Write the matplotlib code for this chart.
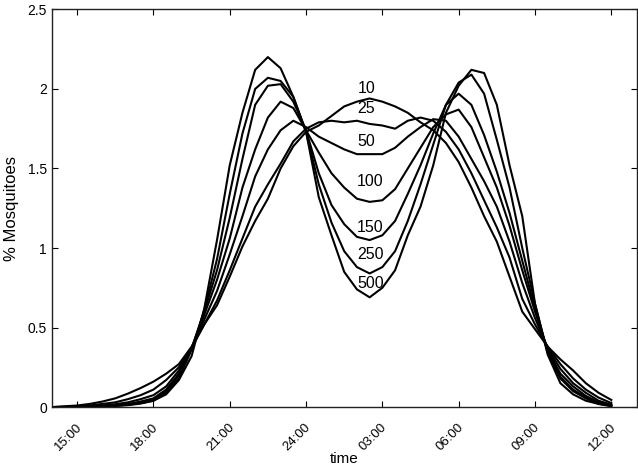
import numpy as np
import matplotlib
matplotlib.use('Agg')
from matplotlib import pyplot as plt
from matplotlib.transforms import ScaledTranslation

plt.rcParams['font.family'] = ['Liberation Sans', 'DejaVu Sans']

# Time of day in hours, 14:00 one day to 12:00 the next (24 = midnight)
hours = np.arange(14.0, 36.01, 0.5)

# % of mosquitoes active, one series per population size
m10 = [0.00, 0.005, 0.01, 0.02, 0.035, 0.055, 0.085, 0.12, 0.16, 0.21,
       0.27, 0.38, 0.52, 0.64, 0.82, 1.01, 1.17, 1.31, 1.50, 1.64,
       1.73, 1.77, 1.83, 1.89, 1.92, 1.94, 1.92, 1.89, 1.85, 1.79,
       1.74, 1.66, 1.54, 1.38, 1.20, 1.04, 0.82, 0.60, 0.49, 0.38,
       0.30, 0.23, 0.15, 0.09, 0.045]
m25 = [0.00, 0.002, 0.005, 0.01, 0.02, 0.03, 0.05, 0.075, 0.11, 0.17,
       0.25, 0.37, 0.52, 0.67, 0.86, 1.06, 1.26, 1.40, 1.53, 1.67,
       1.75, 1.79, 1.80, 1.79, 1.80, 1.78, 1.77, 1.75, 1.80, 1.82,
       1.80, 1.73, 1.62, 1.47, 1.30, 1.13, 0.94, 0.68, 0.52, 0.38,
       0.27, 0.18, 0.11, 0.06, 0.025]
m50 = [0.00, 0.00, 0.003, 0.006, 0.01, 0.018, 0.03, 0.05, 0.075, 0.13,
       0.23, 0.37, 0.55, 0.73, 0.96, 1.20, 1.45, 1.62, 1.74, 1.80,
       1.76, 1.70, 1.66, 1.62, 1.59, 1.59, 1.59, 1.63, 1.70, 1.76,
       1.81, 1.80, 1.70, 1.56, 1.42, 1.26, 1.04, 0.78, 0.56, 0.37,
       0.24, 0.15, 0.09, 0.04, 0.015]
m100 = [0.00, 0.00, 0.002, 0.004, 0.007, 0.012, 0.02, 0.035, 0.055, 0.11,
        0.21, 0.37, 0.58, 0.80, 1.06, 1.38, 1.62, 1.82, 1.92, 1.88,
        1.74, 1.60, 1.47, 1.38, 1.31, 1.29, 1.30, 1.37, 1.50, 1.63,
        1.76, 1.84, 1.87, 1.76, 1.57, 1.38, 1.14, 0.86, 0.60, 0.36,
        0.21, 0.13, 0.07, 0.03, 0.012]
m150 = [0.00, 0.00, 0.001, 0.003, 0.005, 0.009, 0.015, 0.028, 0.045, 0.10,
        0.20, 0.37, 0.60, 0.86, 1.19, 1.56, 1.90, 2.02, 2.03, 1.92,
        1.74, 1.47, 1.27, 1.15, 1.07, 1.05, 1.08, 1.17, 1.34, 1.52,
        1.72, 1.90, 1.97, 1.90, 1.71, 1.48, 1.22, 0.92, 0.62, 0.35,
        0.19, 0.11, 0.06, 0.025, 0.01]
m250 = [0.00, 0.00, 0.001, 0.002, 0.004, 0.007, 0.012, 0.022, 0.04, 0.09,
        0.18, 0.36, 0.61, 0.93, 1.34, 1.72, 2.00, 2.07, 2.05, 1.95,
        1.73, 1.40, 1.16, 0.98, 0.88, 0.84, 0.88, 0.98, 1.17, 1.40,
        1.65, 1.90, 2.04, 2.09, 1.97, 1.68, 1.38, 1.00, 0.65, 0.34,
        0.18, 0.10, 0.055, 0.02, 0.008]
m500 = [0.00, 0.00, 0.00, 0.00, 0.005, 0.01, 0.015, 0.025, 0.04, 0.08,
        0.17, 0.32, 0.62, 1.05, 1.52, 1.85, 2.12, 2.20, 2.13, 1.95,
        1.73, 1.32, 1.08, 0.85, 0.74, 0.69, 0.75, 0.86, 1.08, 1.26,
        1.52, 1.85, 2.02, 2.12, 2.10, 1.90, 1.52, 1.20, 0.65, 0.33,
        0.15, 0.08, 0.04, 0.02, 0.005]

series = [m10, m25, m50, m100, m150, m250, m500]
names = ['10', '25', '50', '100', '150', '250', '500']
# where each curve's label sits (hour, value)
label_x = [26.37, 26.37, 26.37, 26.53, 26.53, 26.53, 26.53]
label_y = [2.00, 1.88, 1.67, 1.42, 1.13, 0.96, 0.78]

tick_hours = [15, 18, 21, 24, 27, 30, 33, 36]
tick_names = ['15:00', '18:00', '21:00', '24:00', '03:00', '06:00', '09:00', '12:00']
ytick_vals = [0, 0.5, 1, 1.5, 2, 2.5]
ytick_names = ['0', '0.5', '1', '1.5', '2', '2.5']

fig = plt.figure(figsize=(6.38, 4.69), dpi=100)
ax = fig.add_subplot(111)
fig.subplots_adjust(left=0.081, right=0.998, bottom=0.132, top=0.98)

for s in series:
    ax.plot(hours, s, color='black', lw=1.5)

for name, lx, ly in zip(names, label_x, label_y):
    ax.text(lx, ly, name, fontsize=11.5, ha='center', va='center')

ax.set_xlim(14, 37)
ax.set_ylim(0, 2.5)
ax.set_xticks(tick_hours)
ax.set_xticklabels(tick_names, rotation=45, ha='right', va='top', fontsize=9.5)
ax.set_yticks(ytick_vals)
ax.set_yticklabels(ytick_names, fontsize=10)
ax.tick_params(direction='in', top=True, right=True, length=4, width=0.8)
ax.tick_params(axis='x', pad=10)

# shift the rotated labels a little to the right, as in the original
for lab in ax.get_xticklabels():
    lab.set_transform(lab.get_transform() + ScaledTranslation(7 / 100, 0, fig.dpi_scale_trans))

for sp in ax.spines.values():
    sp.set_color('#222222')
    sp.set_linewidth(1.0)

ax.set_xlabel('time', fontsize=11)
ax.xaxis.set_label_coords(0.5, -0.113)
ax.set_ylabel('% Mosquitoes', fontsize=12)
ax.yaxis.set_label_coords(-0.056, 0.5)

plt.savefig('out.png', dpi=100)
